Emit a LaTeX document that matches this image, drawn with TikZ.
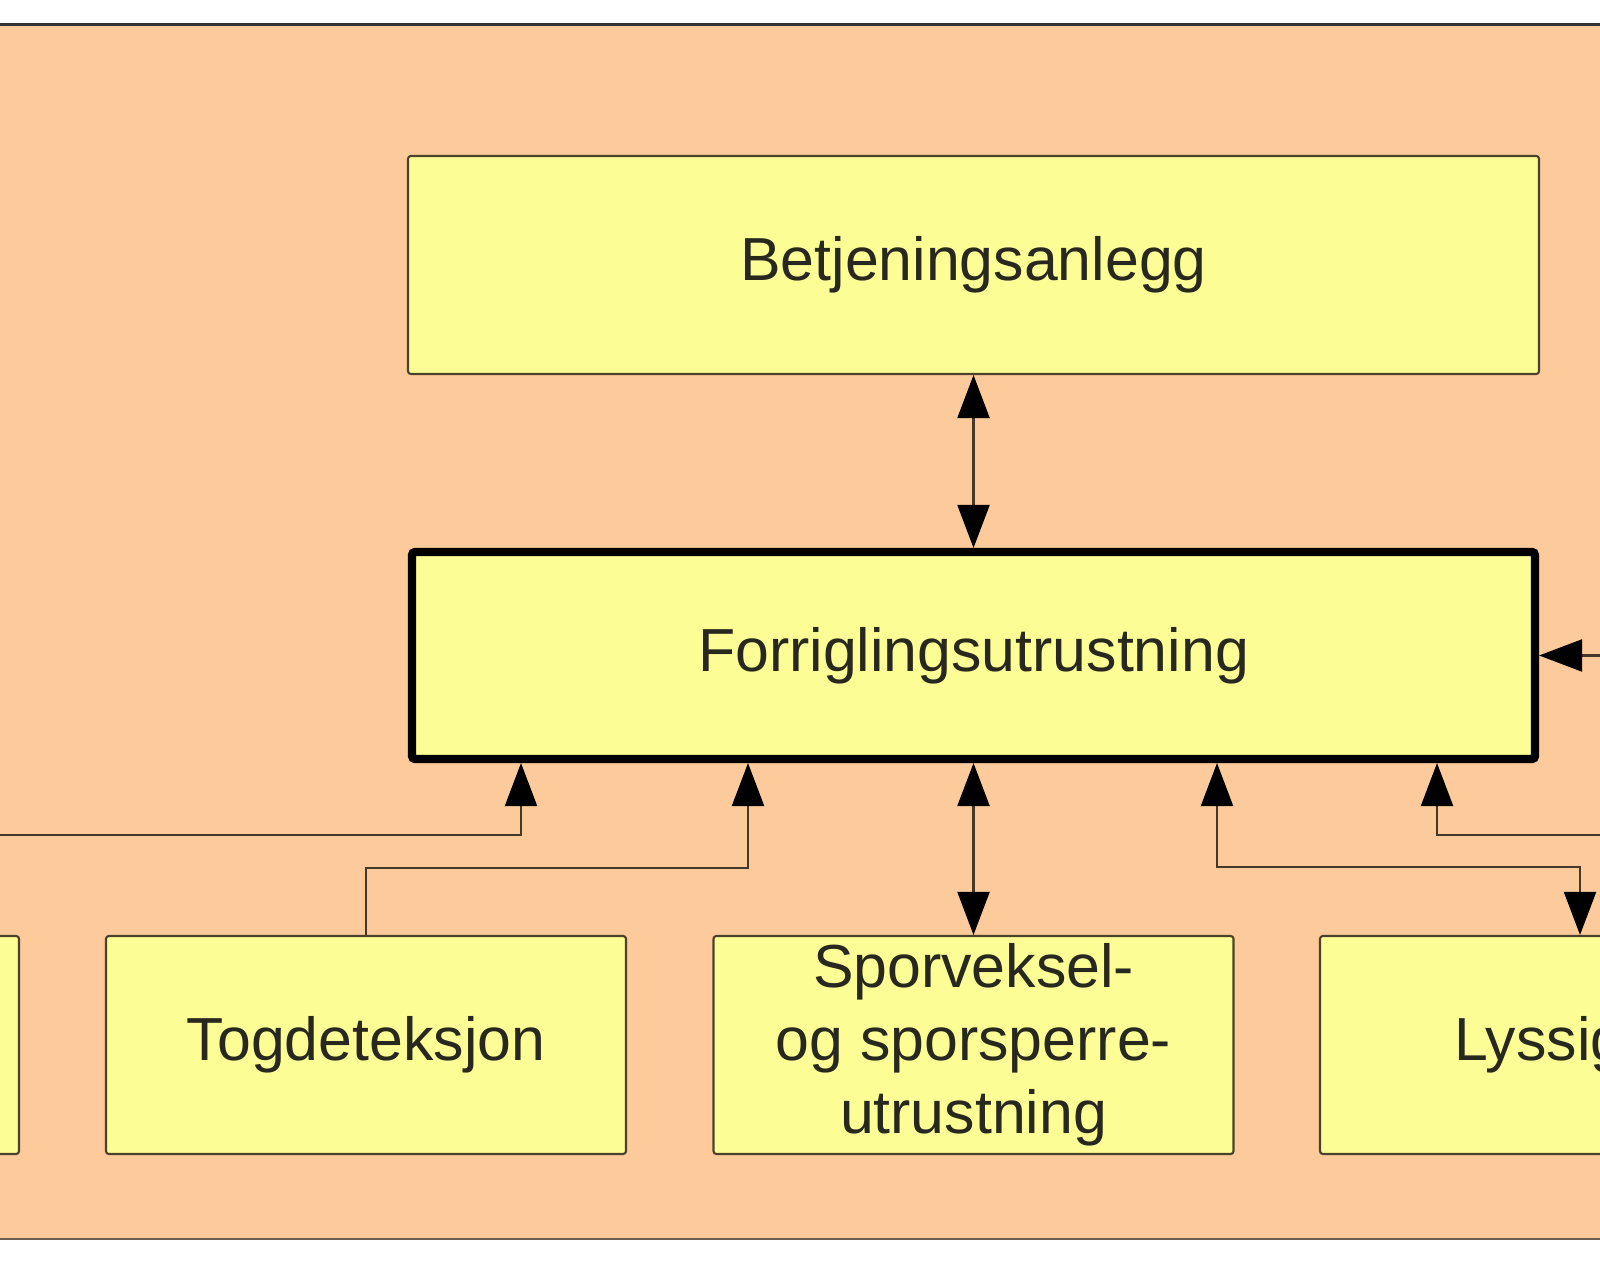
\documentclass[tikz,border=0pt]{standalone}
\usepackage{fontspec}
\setmainfont{Liberation Sans}
\usetikzlibrary{arrows.meta}

\definecolor{peach}{RGB}{253,203,155}
\definecolor{paleyellow}{RGB}{253,253,150}
\definecolor{boxline}{RGB}{75,65,45}
\definecolor{wire}{RGB}{70,55,40}
\definecolor{ink}{RGB}{40,40,30}

\begin{document}
\begin{tikzpicture}[
        box/.style={draw=boxline,line width=0.6pt,fill=paleyellow,rounded corners=0.8pt,
            minimum width=5.2cm,minimum height=2.18cm,inner sep=0pt,
            text=ink,align=center,font=\fontsize{17.3}{20.8}\selectfont},
        mainbox/.style={box,draw=black,line width=2.3pt,minimum width=11.23cm,minimum height=2.07cm},
        conn/.style={draw=wire,line width=0.6pt},
        >={Triangle[length=4.3mm,width=3.2mm,color=black]}
    ]
    \useasboundingbox (0,0) rectangle (16,12.62);
    \clip (0,0) rectangle (16,12.62);
    \fill[peach] (-1,0.23) rectangle (17,12.37);
    \draw[line width=0.85pt,black!80] (-1,12.37) -- (17,12.37);
    \draw[line width=0.7pt,wire!80] (-1,0.23) -- (17,0.23);

    \node[box,minimum width=11.31cm] (betj) at (9.735,9.97) {Betjeningsanlegg};
    \node[mainbox] (forr) at (9.735,6.065) {Forriglingsutrustning};
    \node[box] (lb) at (-2.41,2.17) {};
    \node[box] (tog) at (3.66,2.17) {Togdeteksjon};
    \node[box] (spor) at (9.735,2.17) {Sporveksel-\\og sporsperre-\\utrustning};
    \node[box] (lys) at (15.80,2.17) {Lyssignal};

    % knick points of the wires
    \coordinate (k1) at (5.21,4.27);
    \coordinate (k2) at (7.48,3.94);
    \coordinate (k3) at (12.17,3.95);
    \coordinate (k4) at (14.37,4.27);
    \coordinate (east1) at (16.6,4.27);
    \coordinate (east2) at (16.6,6.065);

    \draw[conn,<->] (betj) -- (forr);
    \draw[conn,<->] (forr) -- (spor);
    \draw[conn,->] (lb.north) |- (k1) -- (k1 |- forr.south);
    \draw[conn,->] (tog.north) |- (k2) -- (k2 |- forr.south);
    \draw[conn,<->] (k3 |- forr.south) -- (k3) -| (lys.north);
    \draw[conn,->] (east1) -- (k4) -- (k4 |- forr.south);
    \draw[conn,->] (east2) -- (forr.east);
\end{tikzpicture}
\end{document}
